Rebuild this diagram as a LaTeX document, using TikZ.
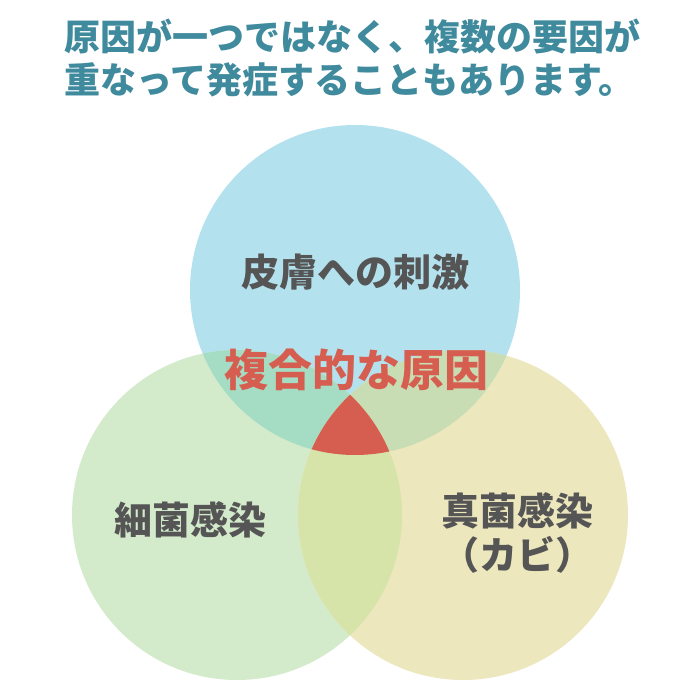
\documentclass[tikz,border=0pt]{standalone}
\usepackage{fontspec}
\newfontfamily\cjk{Noto Sans CJK JP}
\definecolor{skyc}{HTML}{B3E2EE}
\definecolor{leafc}{HTML}{D3EBCB}
\definecolor{sandc}{HTML}{EDE7BE}
\definecolor{skyleaf}{HTML}{A5DCC4}
\definecolor{skysand}{HTML}{C8DDB3}
\definecolor{leafsand}{HTML}{D6E4A9}
\definecolor{redc}{HTML}{D65E50}
\definecolor{tealc}{HTML}{3F8A9D}
\definecolor{inkc}{HTML}{555555}
\begin{document}
\begin{tikzpicture}[x=1pt,y=-1pt]
\tikzstyle{title}= [font=\cjk\bfseries\fontsize{36}{40}\selectfont,text=tealc,inner sep=0pt,anchor=west]
\tikzstyle{lbl}= [font=\cjk\bfseries\fontsize{38}{44}\selectfont,text=inkc,inner sep=0pt,align=center]
\tikzstyle{hot}= [font=\cjk\bfseries\fontsize{44}{48}\selectfont,text=redc,inner sep=0pt]
\useasboundingbox (0,0) rectangle (700,700);
\fill[white] (0,0) rectangle (700,700);
\coordinate (s) at (355,290);
\coordinate (l) at (237,515);
\coordinate (r) at (463,515);
% circles
\fill[skyc] (s) circle[radius=165pt];
\fill[leafc] (l) circle[radius=165pt];
\fill[sandc] (r) circle[radius=165pt];
% overlaps
\begin{scope}
\clip (s) circle[radius=165pt];
\fill[skyleaf] (l) circle[radius=165pt];
\fill[skysand] (r) circle[radius=165pt];
\end{scope}
\begin{scope}
\clip (l) circle[radius=165pt];
\fill[leafsand] (r) circle[radius=165pt];
\clip (r) circle[radius=165pt];
\fill[redc] (s) circle[radius=165pt];
\end{scope}
\path
	(64,37) node[title] (t1) {原因が一つではなく、複数の要因が}
	(64,80) node[title] (t2) {重なって発症することもあります。}
	(355,272) node[lbl] (a) {皮膚への刺激}
	(190,520) node[lbl] (b) {細菌感染}
	(517,533) node[lbl] (c) {真菌感染\\（カビ）}
	(356,370) node[hot] (d) {複合的な原因}
;
\end{tikzpicture}
\end{document}
